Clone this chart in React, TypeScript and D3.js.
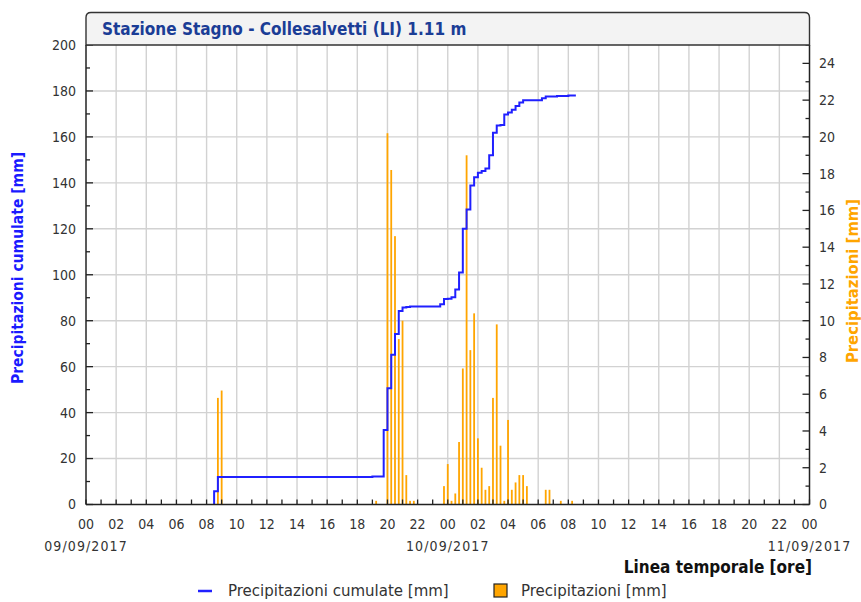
import React from "react";
import * as d3 from "d3";

// ---- data ----
const barTimes = [
  "2017-09-09 08:45", "2017-09-09 09:00", "2017-09-09 19:15", "2017-09-09 20:00",
  "2017-09-09 20:15", "2017-09-09 20:30", "2017-09-09 20:45", "2017-09-09 21:00",
  "2017-09-09 21:15", "2017-09-09 21:30", "2017-09-09 21:45", "2017-09-09 23:45",
  "2017-09-10 00:00", "2017-09-10 00:15", "2017-09-10 00:30", "2017-09-10 00:45",
  "2017-09-10 01:00", "2017-09-10 01:15", "2017-09-10 01:30", "2017-09-10 01:45",
  "2017-09-10 02:00", "2017-09-10 02:15", "2017-09-10 02:30", "2017-09-10 02:45",
  "2017-09-10 03:00", "2017-09-10 03:15", "2017-09-10 03:30", "2017-09-10 03:45",
  "2017-09-10 04:00", "2017-09-10 04:15", "2017-09-10 04:30", "2017-09-10 04:45",
  "2017-09-10 05:00", "2017-09-10 05:15", "2017-09-10 06:30", "2017-09-10 06:45",
  "2017-09-10 07:30", "2017-09-10 08:15",
];
const barValues = [
  5.8, 6.2, 0.2, 20.2,
  18.2, 14.6, 9.0, 10.0,
  1.6, 0.2, 0.2, 1.0,
  2.2, 0.2, 0.6, 3.4,
  7.4, 19.0, 8.4, 10.4,
  3.6, 2.0, 0.8, 1.0,
  5.8, 9.8, 3.2, 0.2,
  4.6, 0.8, 1.2, 1.6,
  1.6, 1.0, 0.8, 0.8,
  0.2, 0.2,
];
const lineStart = "2017-09-09 08:30";
const lineEnd = "2017-09-10 08:30";
const xDomain = ["2017-09-09 00:00", "2017-09-11 00:00"];
const leftTicks = [0, 20, 40, 60, 80, 100, 120, 140, 160, 180, 200];
const leftMinor = [10, 30, 50, 70, 90, 110, 130, 150, 170, 190];
const rightTicks = [0, 2, 4, 6, 8, 10, 12, 14, 16, 18, 20, 22, 24];
const rightMinor = [1, 3, 5, 7, 9, 11, 13, 15, 17, 19, 21, 23, 25];
const dateLabels = ["09/09/2017", "10/09/2017", "11/09/2017"];
const dateTimes = ["2017-09-09 00:00", "2017-09-10 00:00", "2017-09-11 00:00"];

const title = "Stazione Stagno - Collesalvetti (LI) 1.11 m";
const leftTitle = "Precipitazioni cumulate [mm]";
const rightTitle = "Precipitazioni [mm]";
const xTitle = "Linea temporale [ore]";
const legendLine = "Precipitazioni cumulate [mm]";
const legendBar = "Precipitazioni [mm]";

const parse = d3.utcParse("%Y-%m-%d %H:%M");

const L = 86, R = 809.5, T = 45, B = 504.5;
const TICKF = "'DejaVu Sans Condensed', 'DejaVu Sans', sans-serif";
const LEGF = "'DejaVu Sans', sans-serif";

export default function App() {
  const x = d3.scaleUtc().domain(xDomain.map((s) => parse(s) as Date)).range([L, R]);
  const yL = d3.scaleLinear().domain([0, 200]).range([B, T]);
  const yR = d3.scaleLinear().domain([0, 25]).range([B, T]);

  const bars = barTimes.map((t, i) => ({ t: parse(t) as Date, v: barValues[i] }));
  const cum = d3.cumsum(barValues);
  const pts: { t: Date; v: number }[] = [{ t: parse(lineStart) as Date, v: 0 }];
  bars.forEach((b, i) => pts.push({ t: d3.utcMinute.offset(b.t, -15), v: cum[i] }));
  pts.push({ t: parse(lineEnd) as Date, v: cum[cum.length - 1] });
  const linePath = d3
    .line<{ t: Date; v: number }>()
    .x((d) => x(d.t))
    .y((d) => yL(d.v))
    .curve(d3.curveStepAfter)(pts) as string;

  const hours = d3.utcHour.range(x.domain()[0], d3.utcHour.offset(x.domain()[1], 1));
  const twoHours = hours.filter((h) => h.getUTCHours() % 2 === 0);
  const fmtH = d3.utcFormat("%H");

  return (
    <svg width={861} height={602} style={{ position: "absolute", left: 0, top: 0 }}>
      <rect width={861} height={602} fill="#fff" />
      {/* grid */}
      {leftTicks.filter((v) => v > 0 && v < 200).map((v) => (
        <line key={"hg" + v} x1={L} x2={R} y1={yL(v)} y2={yL(v)} stroke="#d2d2d2" strokeWidth={1.4} />
      ))}
      {twoHours.filter((h) => x(h) > L + 1 && x(h) < R - 1).map((h, i) => (
        <line key={"vg" + i} x1={x(h)} x2={x(h)} y1={T} y2={B} stroke="#d2d2d2" strokeWidth={1.4} />
      ))}
      {/* bars */}
      {bars.map((b, i) => (
        <rect key={"b" + i} x={x(b.t) - 0.9} width={1.8} y={yR(b.v)} height={B - yR(b.v)} fill="#ffa500" />
      ))}
      {/* cumulative line */}
      <path d={linePath} fill="none" stroke="#2020ff" strokeWidth={2} />
      {/* axes */}
      <line x1={L} x2={L} y1={T} y2={B} stroke="#222" strokeWidth={1.5} />
      <line x1={R} x2={R} y1={T} y2={B} stroke="#222" strokeWidth={1.5} />
      <line x1={L} x2={R} y1={B} y2={B} stroke="#222" strokeWidth={1.5} />
      {leftTicks.map((v) => (
        <g key={"lt" + v}>
          <line x1={L} x2={L + 7} y1={yL(v)} y2={yL(v)} stroke="#222" strokeWidth={1.3} />
          <text x={76} y={yL(v)} dy="0.35em" textAnchor="end" fontFamily={TICKF} fontSize={14} fill="#333">{v}</text>
        </g>
      ))}
      {leftMinor.map((v) => (
        <line key={"lm" + v} x1={L} x2={L + 4} y1={yL(v)} y2={yL(v)} stroke="#222" strokeWidth={1.3} />
      ))}
      {rightTicks.map((v) => (
        <g key={"rt" + v}>
          <line x1={R - 7} x2={R} y1={yR(v)} y2={yR(v)} stroke="#222" strokeWidth={1.3} />
          <text x={819} y={yR(v)} dy="0.35em" textAnchor="start" fontFamily={TICKF} fontSize={14} fill="#333">{v}</text>
        </g>
      ))}
      {rightMinor.map((v) => (
        <line key={"rm" + v} x1={R - 4} x2={R} y1={yR(v)} y2={yR(v)} stroke="#222" strokeWidth={1.3} />
      ))}
      {hours.map((h, i) => (
        <line key={"xt" + i} x1={x(h)} x2={x(h)} y1={B} y2={B - 5} stroke="#222" strokeWidth={1.3} />
      ))}
      {twoHours.map((h, i) => (
        <text key={"xl" + i} x={x(h)} y={524} dy="0.35em" textAnchor="middle" fontFamily={TICKF} fontSize={14} fill="#333">{fmtH(h)}</text>
      ))}
      {dateLabels.map((d, i) => (
        <text key={"dl" + i} x={x(parse(dateTimes[i]) as Date)} y={546} dy="0.35em" textAnchor="middle" fontFamily={TICKF} fontSize={14} letterSpacing={1.1} fill="#333">{d}</text>
      ))}
      {/* title box */}
      <path d={`M${L},${T} V17.5 Q${L},12.5 ${L + 5},12.5 H${R - 5} Q${R},12.5 ${R},17.5 V${T} Z`} fill="#f3f3f3" stroke="#333" strokeWidth={1.4} />
      <text x={102} y={29} dy="0.35em" fontFamily={TICKF} fontWeight="bold" fontSize={17} fill="#1b3d96">{title}</text>
      {/* axis titles */}
      <text transform="translate(18,268) rotate(-90)" dy="0.35em" textAnchor="middle" fontFamily={TICKF} fontWeight="bold" fontSize={15.5} fill="#1a1aff">{leftTitle}</text>
      <text transform="translate(852,281) rotate(-90)" dy="0.35em" textAnchor="middle" fontFamily={TICKF} fontWeight="bold" fontSize={16.5} fill="#ffa500">{rightTitle}</text>
      <text x={812} y={567} dy="0.35em" textAnchor="end" fontFamily={TICKF} fontWeight="bold" fontSize={17} fill="#111">{xTitle}</text>
      {/* legend */}
      <line x1={198} x2={212} y1={591} y2={591} stroke="#2020ff" strokeWidth={2.5} />
      <text x={228} y={591} dy="0.35em" fontFamily={LEGF} fontSize={15} fill="#333">{legendLine}</text>
      <rect x={494} y={584} width={13} height={13} fill="#ffa500" stroke="#222" strokeWidth={1.2} />
      <text x={521} y={591} dy="0.35em" fontFamily={LEGF} fontSize={15} fill="#333">{legendBar}</text>
    </svg>
  );
}
